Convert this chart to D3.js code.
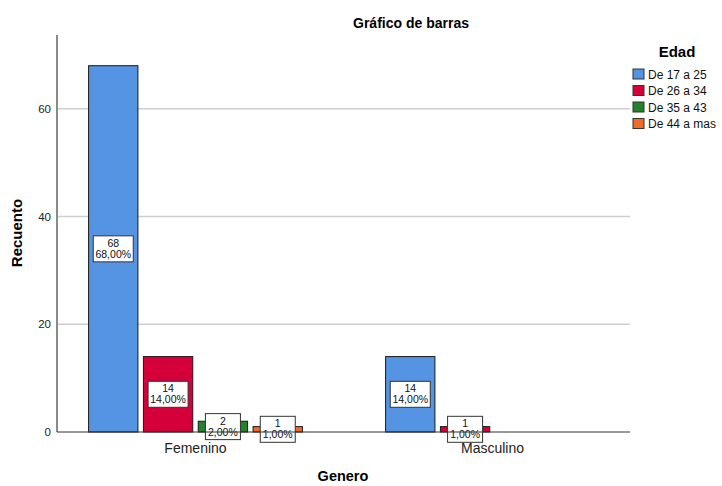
<!DOCTYPE html>
<html>
<head>
<meta charset="utf-8">
<script src="https://cdn.jsdelivr.net/npm/d3@7"></script>
<style>
  body { margin: 0; background: #fff; }
  text { font-family: "Liberation Sans", Arial, sans-serif; }
</style>
</head>
<body>
<div class="chart"></div>
<script>
const generos = ["Femenino", "Masculino"]
const edades = ["De 17 a 25", "De 26 a 34", "De 35 a 43", "De 44 a mas"]
const femenino = [68, 14, 2, 1]
const masculino = [14, 1, 0, 0]
const yTicks = [0, 20, 40, 60]
const colores = ["#5593E3", "#D5003A", "#24822C", "#F26B24"]
const total = 100

const data = generos.map((g, i) => {
  const vals = i === 0 ? femenino : masculino
  return {genero: g, values: edades.map((e, j) => ({edad: e, value: vals[j]}))}
})

const W = 722, H = 486
const plot = {left: 57, right: 630, top: 35, bottom: 432}

const svg = d3.select(".chart").append("svg")
    .attr("width", W)
    .attr("height", H)

const y = d3.scaleLinear()
    .domain([0, 73.7])
    .range([plot.bottom, plot.top])

const x = d3.scaleBand()
    .domain(generos)
    .range([47, 641])
    .paddingInner(0.28)
    .paddingOuter(0.14)

const xSub = d3.scaleBand()
    .domain(edades)
    .range([0, x.bandwidth()])
    .paddingInner(0.1)

const color = d3.scaleOrdinal().domain(edades).range(colores)

// gridlines
svg.append("g")
  .selectAll("line")
  .data(yTicks.filter(d => d > 0))
  .join("line")
    .attr("x1", plot.left)
    .attr("x2", plot.right)
    .attr("y1", d => y(d))
    .attr("y2", d => y(d))
    .attr("stroke", "#cfcfcf")
    .attr("stroke-width", 1.5)

// y axis
const yAxis = d3.axisLeft(y).tickValues(yTicks).tickSize(0).tickPadding(6)
svg.append("g")
    .attr("transform", `translate(${plot.left},0)`)
    .call(yAxis)
    .call(g => g.select(".domain").remove())
    .call(g => g.selectAll("text").attr("font-size", 11.5).attr("fill", "#222"))

svg.append("line")
    .attr("x1", plot.left).attr("x2", plot.left)
    .attr("y1", plot.top).attr("y2", plot.bottom)
    .attr("stroke", "#8a8a8a")
    .attr("stroke-width", 2)

// bars
const groups = svg.append("g")
  .selectAll("g")
  .data(data)
  .join("g")
    .attr("transform", d => `translate(${x(d.genero)},0)`)

groups.selectAll("rect")
  .data(d => d.values.filter(v => v.value > 0))
  .join("rect")
    .attr("x", d => xSub(d.edad))
    .attr("y", d => y(d.value))
    .attr("width", xSub.bandwidth())
    .attr("height", d => y(0) - y(d.value))
    .attr("fill", d => color(d.edad))
    .attr("stroke", "#1a1a1a")
    .attr("stroke-width", 1)

// baseline
svg.append("line")
    .attr("x1", plot.left).attr("x2", plot.right)
    .attr("y1", plot.bottom).attr("y2", plot.bottom)
    .attr("stroke", "#333")
    .attr("stroke-width", 1)

// value labels
const fmt = v => d3.format(".2f")(v / total * 100).replace(".", ",") + "%"
const labels = groups.selectAll("g.lbl")
  .data(d => d.values.filter(v => v.value > 0))
  .join("g")
    .attr("class", "lbl")
    .attr("transform", d => `translate(${xSub(d.edad) + xSub.bandwidth() / 2},${y(d.value / 2)})`)

labels.append("rect")
    .attr("x", d => d.value >= 10 ? -20 : -17.5)
    .attr("y", -13)
    .attr("width", d => d.value >= 10 ? 40 : 35)
    .attr("height", 26)
    .attr("fill", "#fff")
    .attr("stroke", "#333")
    .attr("stroke-width", 1)

labels.append("text")
    .attr("text-anchor", "middle")
    .attr("y", -2)
    .attr("font-size", 10.5)
    .attr("fill", "#111")
    .text(d => d.value)

labels.append("text")
    .attr("text-anchor", "middle")
    .attr("y", 9)
    .attr("font-size", 10.5)
    .attr("fill", "#111")
    .text(d => fmt(d.value))

// x tick labels
svg.append("g")
  .selectAll("text")
  .data(generos)
  .join("text")
    .attr("x", d => x(d) + x.bandwidth() / 2)
    .attr("y", 453)
    .attr("text-anchor", "middle")
    .attr("font-size", 14)
    .attr("fill", "#222")
    .text(d => d)

// titles
svg.append("text")
    .attr("x", 411).attr("y", 28)
    .attr("text-anchor", "middle")
    .attr("font-size", 14)
    .attr("font-weight", "bold")
    .text("Gráfico de barras")

svg.append("text")
    .attr("x", 343).attr("y", 481)
    .attr("text-anchor", "middle")
    .attr("font-size", 14.5)
    .attr("font-weight", "bold")
    .text("Genero")

svg.append("text")
    .attr("transform", "translate(22,233) rotate(-90)")
    .attr("text-anchor", "middle")
    .attr("font-size", 15)
    .attr("font-weight", "bold")
    .text("Recuento")

// legend
svg.append("text")
    .attr("x", 677).attr("y", 57)
    .attr("text-anchor", "middle")
    .attr("font-size", 15)
    .attr("font-weight", "bold")
    .text("Edad")

const leg = svg.append("g")
  .selectAll("g")
  .data(edades)
  .join("g")
    .attr("transform", (d, i) => `translate(633,${69 + i * 16.5})`)

leg.append("rect")
    .attr("width", 11)
    .attr("height", 10)
    .attr("fill", d => color(d))
    .attr("stroke", "#333")
    .attr("stroke-width", 1)

leg.append("text")
    .attr("x", 15)
    .attr("y", 9.5)
    .attr("font-size", 12)
    .attr("fill", "#111")
    .text(d => d)
</script>
</body>
</html>
